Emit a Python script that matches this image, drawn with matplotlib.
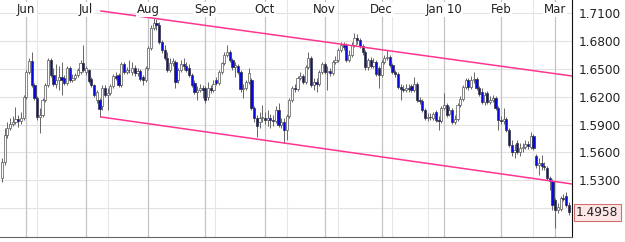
import matplotlib
matplotlib.use("Agg")
import matplotlib.pyplot as plt
import matplotlib.transforms as mtransforms
import numpy as np
import pandas as pd

# daily GBP/USD candles, 19 May 2009 .. 8 Mar 2010
opens = [
    1.5327, 1.5499, 1.5789, 1.5864, 1.5907, 1.5929, 1.5961, 1.5939, 1.5972,
    1.6197, 1.6466, 1.6584, 1.6326, 1.6187, 1.5982, 1.6004, 1.6165, 1.6326, 1.6595, 1.6434,
    1.6337, 1.6380, 1.6412, 1.6402, 1.6348, 1.6509, 1.6380, 1.6402, 1.6434, 1.6466, 1.6563,
    1.6466, 1.6488, 1.6391, 1.6326, 1.6165, 1.6165, 1.6101, 1.6294, 1.6219, 1.6240, 1.6316,
    1.6423, 1.6434, 1.6326, 1.6552, 1.6466, 1.6488, 1.6466, 1.6509, 1.6455, 1.6477, 1.6412, 1.6380,
    1.6509, 1.6724, 1.6939, 1.6993, 1.6971, 1.6789, 1.6703, 1.6617, 1.6488, 1.6563, 1.6574,
    1.6380, 1.6488, 1.6552, 1.6531, 1.6509, 1.6434, 1.6348, 1.6251, 1.6273, 1.6294,
    1.6294, 1.6197, 1.6294, 1.6273, 1.6380, 1.6348, 1.6466, 1.6563, 1.6649, 1.6681, 1.6595,
    1.6520, 1.6531, 1.6466, 1.6283, 1.6294, 1.6359, 1.6380, 1.6079, 1.5972, 1.5929, 1.5972,
    1.5972, 1.5950, 1.5972, 1.5950, 1.5939, 1.6058, 1.5896, 1.5929, 1.5843, 1.5993, 1.6165,
    1.6294, 1.6283, 1.6402, 1.6423, 1.6359, 1.6520, 1.6617, 1.6326, 1.6359, 1.6337, 1.6466,
    1.6552, 1.6466, 1.6477, 1.6455, 1.6574, 1.6595, 1.6703, 1.6756, 1.6756, 1.6595, 1.6649,
    1.6756, 1.6832, 1.6810, 1.6746, 1.6681, 1.6520, 1.6595, 1.6531, 1.6574, 1.6509,
    1.6434, 1.6574, 1.6617, 1.6627, 1.6541, 1.6466, 1.6445, 1.6305, 1.6283, 1.6273, 1.6294,
    1.6316, 1.6273, 1.6337, 1.6165, 1.6154, 1.6058, 1.5972, 1.5982, 1.5972, 1.6036, 1.5950,
    1.5939,
    1.6079, 1.6111, 1.6015, 1.6058, 1.5929, 1.5961, 1.6111, 1.6176, 1.6305, 1.6380, 1.6305,
    1.6380, 1.6391, 1.6294, 1.6251, 1.6144, 1.6240, 1.6144, 1.6165, 1.6187, 1.6079,
    1.5950, 1.5939, 1.5961, 1.5843, 1.5681, 1.5606, 1.5703, 1.5606, 1.5649, 1.5660, 1.5692,
    1.5660, 1.5778, 1.5563, 1.5466, 1.5488, 1.5456, 1.5434, 1.5327, 1.5294,
    1.5090, 1.4983, 1.4993, 1.5112, 1.5133, 1.5036,
]
highs = [
    1.5542, 1.5864, 1.5929, 1.5972, 1.5993, 1.6090, 1.6004, 1.6036, 1.6219,
    1.6488, 1.6617, 1.6681, 1.6348, 1.6208, 1.6079, 1.6187, 1.6348, 1.6617, 1.6617, 1.6509,
    1.6552, 1.6531, 1.6574, 1.6434, 1.6531, 1.6531, 1.6445, 1.6455, 1.6509, 1.6595, 1.6756,
    1.6531, 1.6498, 1.6412, 1.6337, 1.6273, 1.6187, 1.6326, 1.6326, 1.6294, 1.6337, 1.6445,
    1.6466, 1.6455, 1.6574, 1.6574, 1.6520, 1.6595, 1.6574, 1.6541, 1.6509, 1.6498, 1.6434, 1.6531,
    1.6746, 1.6971, 1.7047, 1.7036, 1.7004, 1.6810, 1.6756, 1.6681, 1.6617, 1.6617, 1.6595,
    1.6509, 1.6595, 1.6617, 1.6574, 1.6552, 1.6455, 1.6380, 1.6316, 1.6337, 1.6326,
    1.6316, 1.6359, 1.6326, 1.6380, 1.6412, 1.6488, 1.6574, 1.6681, 1.6756, 1.6703, 1.6617,
    1.6574, 1.6552, 1.6488, 1.6337, 1.6380, 1.6509, 1.6402, 1.6101, 1.6004, 1.6036, 1.6111,
    1.6036, 1.6058, 1.6015, 1.6004, 1.6101, 1.6133, 1.5972, 1.5972, 1.6015, 1.6187, 1.6316,
    1.6337, 1.6423, 1.6466, 1.6445, 1.6541, 1.6681, 1.6638, 1.6402, 1.6402, 1.6488, 1.6574,
    1.6574, 1.6531, 1.6509, 1.6595, 1.6638, 1.6724, 1.6789, 1.6789, 1.6778, 1.6703, 1.6789,
    1.6885, 1.6875, 1.6832, 1.6767, 1.6703, 1.6617, 1.6627, 1.6617, 1.6595, 1.6531,
    1.6595, 1.6649, 1.6703, 1.6649, 1.6563, 1.6488, 1.6466, 1.6337, 1.6326, 1.6337, 1.6337,
    1.6337, 1.6412, 1.6359, 1.6197, 1.6176, 1.6079, 1.6025, 1.6025, 1.6036, 1.6058, 1.5993,
    1.6101,
    1.6240, 1.6133, 1.6101, 1.6079, 1.6004, 1.6133, 1.6208, 1.6326, 1.6402, 1.6402, 1.6423,
    1.6466, 1.6412, 1.6316, 1.6294, 1.6251, 1.6262, 1.6208, 1.6219, 1.6208, 1.6101,
    1.5993, 1.6079, 1.5982, 1.5864, 1.5735, 1.5692, 1.5735, 1.5703, 1.5703, 1.5735, 1.5724,
    1.5821, 1.5800, 1.5585, 1.5542, 1.5574, 1.5499, 1.5456, 1.5348, 1.5316,
    1.5112, 1.5058, 1.5133, 1.5155, 1.5176, 1.5069,
]
lows = [
    1.5284, 1.5466, 1.5757, 1.5843, 1.5886, 1.5907, 1.5875, 1.5907, 1.5950,
    1.6176, 1.6445, 1.6305, 1.6165, 1.5950, 1.5810, 1.5982, 1.6144, 1.6305, 1.6412, 1.6316,
    1.6294, 1.6273, 1.6219, 1.6326, 1.6326, 1.6359, 1.6359, 1.6380, 1.6412, 1.6445, 1.6466,
    1.6434, 1.6348, 1.6305, 1.6197, 1.6133, 1.5982, 1.6058, 1.6197, 1.6058, 1.6219, 1.6294,
    1.6380, 1.6305, 1.6305, 1.6445, 1.6445, 1.6455, 1.6434, 1.6423, 1.6423, 1.6369, 1.6326, 1.6359,
    1.6488, 1.6703, 1.6918, 1.6918, 1.6767, 1.6670, 1.6595, 1.6466, 1.6466, 1.6531, 1.6294,
    1.6348, 1.6466, 1.6488, 1.6466, 1.6412, 1.6305, 1.6230, 1.6165, 1.6251, 1.6187,
    1.6133, 1.6165, 1.6240, 1.6251, 1.6326, 1.6326, 1.6445, 1.6541, 1.6627, 1.6574, 1.6488,
    1.6412, 1.6445, 1.6251, 1.6187, 1.6273, 1.6337, 1.6058, 1.5929, 1.5767, 1.5864, 1.5929,
    1.5907, 1.5886, 1.5864, 1.5886, 1.5918, 1.5875, 1.5864, 1.5703, 1.5735, 1.5972, 1.6144,
    1.6251, 1.6262, 1.6380, 1.6337, 1.6337, 1.6498, 1.6305, 1.6273, 1.6251, 1.6316, 1.6445,
    1.6445, 1.6273, 1.6423, 1.6434, 1.6552, 1.6574, 1.6681, 1.6703, 1.6574, 1.6574, 1.6627,
    1.6735, 1.6767, 1.6724, 1.6649, 1.6488, 1.6488, 1.6509, 1.6509, 1.6423, 1.6294,
    1.6412, 1.6552, 1.6595, 1.6520, 1.6445, 1.6412, 1.6283, 1.6165, 1.6251, 1.6251, 1.6251,
    1.6251, 1.6251, 1.6144, 1.6122, 1.6036, 1.5950, 1.5939, 1.5950, 1.5950, 1.5929, 1.5843,
    1.5918,
    1.6058, 1.5982, 1.5993, 1.5907, 1.5907, 1.5939, 1.6090, 1.6154, 1.6283, 1.6273, 1.6283,
    1.6348, 1.6273, 1.6208, 1.6122, 1.6111, 1.6122, 1.6122, 1.6144, 1.6058, 1.5843,
    1.5907, 1.5907, 1.5821, 1.5660, 1.5563, 1.5542, 1.5585, 1.5563, 1.5606, 1.5638, 1.5638,
    1.5638, 1.5628, 1.5434, 1.5359, 1.5413, 1.5413, 1.5305, 1.5198, 1.4983,
    1.4789, 1.4950, 1.4972, 1.5079, 1.5015, 1.4929,
]
closes = [
    1.5499, 1.5789, 1.5864, 1.5907, 1.5929, 1.5961, 1.5939, 1.5972, 1.6197,
    1.6466, 1.6584, 1.6326, 1.6187, 1.5982, 1.6004, 1.6165, 1.6326, 1.6595, 1.6434, 1.6337,
    1.6380, 1.6412, 1.6380, 1.6348, 1.6509, 1.6380, 1.6402, 1.6434, 1.6488, 1.6563, 1.6488,
    1.6509, 1.6369, 1.6326, 1.6219, 1.6251, 1.6068, 1.6294, 1.6219, 1.6240, 1.6316, 1.6423,
    1.6402, 1.6326, 1.6552, 1.6466, 1.6488, 1.6490, 1.6509, 1.6455, 1.6477, 1.6391, 1.6380, 1.6509,
    1.6724, 1.6939, 1.6993, 1.6971, 1.6789, 1.6703, 1.6617, 1.6488, 1.6563, 1.6584, 1.6359,
    1.6488, 1.6552, 1.6531, 1.6488, 1.6434, 1.6326, 1.6251, 1.6273, 1.6294, 1.6273,
    1.6165, 1.6294, 1.6273, 1.6337, 1.6348, 1.6466, 1.6563, 1.6649, 1.6681, 1.6595, 1.6520,
    1.6541, 1.6466, 1.6283, 1.6294, 1.6359, 1.6455, 1.6079, 1.5972, 1.5886, 1.5972, 1.5982,
    1.5950, 1.5972, 1.5950, 1.5939, 1.6058, 1.5896, 1.5929, 1.5843, 1.5993, 1.6165, 1.6294,
    1.6283, 1.6402, 1.6423, 1.6359, 1.6520, 1.6617, 1.6326, 1.6359, 1.6337, 1.6466, 1.6552,
    1.6466, 1.6477, 1.6455, 1.6574, 1.6595, 1.6703, 1.6756, 1.6735, 1.6595, 1.6649, 1.6756,
    1.6832, 1.6810, 1.6746, 1.6681, 1.6520, 1.6595, 1.6531, 1.6574, 1.6445, 1.6434,
    1.6574, 1.6617, 1.6627, 1.6541, 1.6466, 1.6445, 1.6305, 1.6283, 1.6273, 1.6294, 1.6283,
    1.6273, 1.6337, 1.6165, 1.6154, 1.6058, 1.5972, 1.5982, 1.5980, 1.6015, 1.5950, 1.5939,
    1.6079,
    1.6111, 1.6004, 1.6058, 1.5929, 1.5961, 1.6111, 1.6176, 1.6305, 1.6380, 1.6305, 1.6380,
    1.6391, 1.6294, 1.6230, 1.6144, 1.6219, 1.6144, 1.6165, 1.6187, 1.6079, 1.5950,
    1.5939, 1.5961, 1.5843, 1.5681, 1.5606, 1.5628, 1.5606, 1.5649, 1.5660, 1.5692, 1.5671,
    1.5778, 1.5649, 1.5466, 1.5488, 1.5456, 1.5445, 1.5327, 1.5294, 1.5036,
    1.4983, 1.5015, 1.5112, 1.5101, 1.5036, 1.4958,
]

# channel lines drawn on the chart: (bar index, price) at both ends
upper_channel = ([36.5, 210.1], [1.7122, 1.6423])
lower_channel = ([36.5, 210.1], [1.5982, 1.5262])

price_ticks = [1.50, 1.53, 1.56, 1.59, 1.62, 1.65, 1.68, 1.71]
last_price = 1.4958
# extra faint vertical grid lines (bar index)
minor_grid = [13, 39, 78.5, 105, 124, 144, 157, 196]

dates = pd.bdate_range("2009-05-19", periods=len(closes))
x = np.arange(len(closes))

fig = plt.figure(figsize=(6.25, 2.42), dpi=100)
ax = fig.add_axes([0.0, 0.021, 0.9152, 0.979])
ax.set_xlim(-0.7, 210.2)
ax.set_ylim(1.4692, 1.7240)

# month boundaries (first trading day of each month from June on)
month_idx = []
month_lbl = []
for i in range(1, len(dates)):
    if dates[i].month != dates[i - 1].month:
        month_idx.append(i)
        month_lbl.append("Jan 10" if dates[i].month == 1 else dates[i].strftime("%b"))

for y in price_ticks:
    ax.axhline(y, color="#e2e2e2", lw=0.8, zorder=0)
for i in minor_grid:
    ax.axvline(i, color="#e6e6e6", lw=0.8, zorder=0)
for i in month_idx:
    ax.axvline(i, color="#c4c4c4", lw=0.9, zorder=0)

o = np.array(opens)
h = np.array(highs)
l = np.array(lows)
c = np.array(closes)
up = c >= o
ax.vlines(x, l, h, color="#666666", lw=0.7, zorder=2)
body = np.maximum(np.abs(c - o), 0.0004)
ax.bar(x[up], body[up], bottom=np.minimum(o, c)[up], width=0.8,
       color="white", edgecolor="#555555", lw=0.5, zorder=3)
ax.bar(x[~up], body[~up], bottom=np.minimum(o, c)[~up], width=0.8,
       color="#0808e0", edgecolor="#333333", lw=0.5, zorder=3)

ax.plot(*upper_channel, color="#ff3590", lw=1.1, zorder=4)
ax.plot(*lower_channel, color="#ff3590", lw=1.1, zorder=4)

for i, lbl in zip(month_idx, month_lbl):
    ax.text(i, 1.7135, lbl, ha="center", va="center", fontsize=8.5, color="#222222",
            bbox=dict(facecolor="white", edgecolor="none", pad=0.8), zorder=5)

ax.set_xticks([])
ax.yaxis.tick_right()
ax.set_yticks(price_ticks)
ax.set_yticklabels([""] + ["%.4f" % p for p in price_ticks[1:]])
ax.tick_params(axis="y", length=0, pad=5, labelsize=8.7, labelcolor="#222222")
for s in ["left", "top"]:
    ax.spines[s].set_visible(False)
ax.spines["right"].set_color("#111111")
ax.spines["bottom"].set_color("#666666")

trans = mtransforms.blended_transform_factory(ax.transAxes, ax.transData)
ax.text(1.007, last_price, "%.4f" % last_price, transform=trans, ha="left", va="center",
        fontsize=8.7, color="#222222", clip_on=False,
        bbox=dict(facecolor="#fde6e6", edgecolor="#d07070", pad=1.6, lw=0.8))

fig.savefig("out.png", dpi=100)
